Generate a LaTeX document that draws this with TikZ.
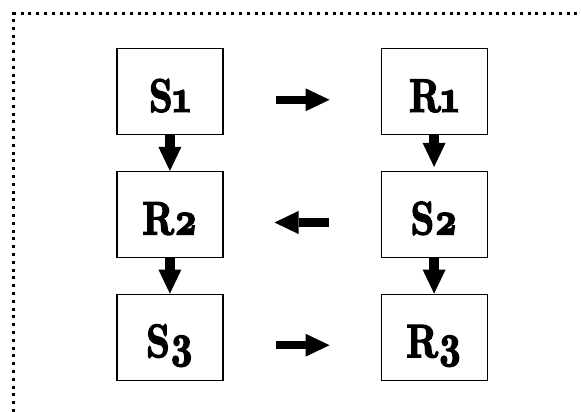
\documentclass[tikz,border=0pt]{standalone}
\usepackage{fontspec}
\newfontfamily\boxfont{lmroman10-bold.otf}[Numbers=OldStyle,FakeStretch=0.78,FakeBold=3]
\usetikzlibrary{arrows.meta,positioning,matrix}

\begin{document}
\begin{tikzpicture}[x=1pt,y=1pt,
  every matrix/.style={ampersand replacement=\&,column sep=157pt,row sep=35.5pt},
  station/.style={draw,line width=1.2pt,minimum width=106pt,minimum height=86pt,inner sep=0pt,
    font=\boxfont\fontsize{47}{47}\selectfont,text height=40pt,text depth=0pt},
  frame/.style={line width=3pt,dash pattern=on 3pt off 4.8pt},
  down/.style={line width=10pt,-{Triangle[length=24pt,width=23pt,line width=0pt]}},
  across/.style={down,line width=8.5pt,shorten <=52pt,shorten >=51pt}]

    \useasboundingbox (0,0) rectangle (581,412);
    \draw[frame] (13,0) -- (13,398) -- (581,398);

    \matrix (grid) at (302,197.5) {
        \node[station](s1){S1}; \& \node[station](r1){R1}; \\
        \node[station](r2){R2}; \& \node[station](s2){S2}; \\
        \node[station](s3){S3}; \& \node[station](r3){R3}; \\
    };

    \draw[down](s1) -- (r2);
    \draw[down](r2) -- (s3);
    \draw[down,shorten >=4pt](r1) -- (s2);
    \draw[down](s2) -- (r3);
    \draw[across]([yshift=-8pt]s1.east) -- ([yshift=-8pt]r1.west);
    \draw[across]([yshift=-8pt]s2.west) -- ([yshift=-8pt]r2.east);
    \draw[across]([yshift=-8pt]s3.east) -- ([yshift=-8pt]r3.west);
\end{tikzpicture}
\end{document}
